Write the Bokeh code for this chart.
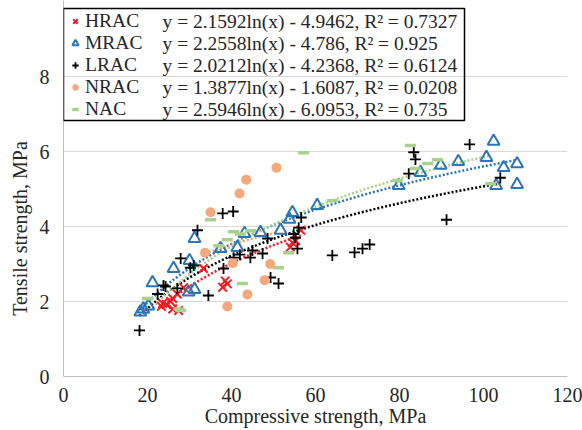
import numpy as np
from bokeh.plotting import figure
from bokeh.models import (Range1d, FixedTicker, Legend, LegendItem, Label,
                          BoxAnnotation)
from bokeh.embed import file_html
from bokeh.resources import INLINE

# ---------------- data ----------------
series_names = ["HRAC", "MRAC", "LRAC", "NRAC", "NAC"]

hrac_x = [23.3, 23.6, 24.5, 25.5, 26.0, 26.0, 27.1, 27.4, 28.6, 33.3, 37.9, 39.0, 38.5,
          54.0, 54.5, 55.3, 56.5]
hrac_y = [1.87, 1.95, 1.92, 2.00, 2.08, 1.80, 2.20, 1.76, 2.37, 2.88, 2.38, 2.47, 2.55,
          3.45, 3.57, 3.62, 3.90]

mrac_x = [18.3, 19.0, 20.2, 21.2, 26.2, 29.8, 31.2, 30.0, 31.2, 37.4, 41.4, 43.1, 46.9,
          51.7, 53.8, 54.5, 60.4, 79.8, 85.0, 89.8, 94.0, 100.7, 102.4, 104.8, 108.0, 103.0, 108.0]
mrac_y = [1.72, 1.80, 1.88, 2.50, 2.88, 2.25, 2.32, 3.09, 3.68, 3.41, 3.44, 3.81, 3.84,
          3.90, 4.19, 4.37, 4.56, 5.09, 5.44, 5.63, 5.73, 5.84, 6.27, 5.57, 5.67, 5.09, 5.12]

lrac_x = [18.1, 22.4, 23.8, 24.3, 27.1, 27.9, 30.2, 31.0, 31.9, 34.5, 37.9, 40.4, 38.1, 40.5,
          42.0, 44.5, 45.0, 47.4, 48.6, 49.3, 51.2, 54.8, 55.2, 55.7, 56.0, 56.6, 64.0, 69.3,
          71.2, 72.9, 82.2, 83.4, 83.8, 91.2, 96.7, 104.0]
lrac_y = [1.23, 2.20, 2.43, 2.40, 2.35, 3.15, 2.90, 2.96, 3.90, 2.16, 4.35, 4.40, 2.88, 3.17,
          3.25, 3.17, 3.36, 3.28, 3.68, 2.64, 2.48, 3.80, 3.70, 3.41, 3.97, 4.24, 3.23, 3.31,
          3.41, 3.52, 5.41, 5.98, 5.79, 4.18, 6.19, 5.30]

nrac_x = [33.7, 35.0, 39.0, 40.3, 41.9, 43.5, 43.8, 47.9, 49.2, 50.7]
nrac_y = [3.30, 4.38, 1.87, 3.02, 4.88, 5.25, 2.19, 2.57, 3.00, 5.57]

nac_x = [20.0, 27.4, 27.9, 35.0, 37.0, 39.0, 40.5, 42.1, 44.5, 42.6, 51.2, 53.6, 57.2, 64.0,
         79.5, 82.6, 83.8, 86.7, 89.0, 101.7]
nac_y = [2.08, 1.80, 1.76, 4.18, 3.49, 3.65, 3.86, 3.80, 3.89, 2.48, 2.90, 3.30, 5.97, 4.69,
         5.23, 6.16, 5.55, 5.68, 5.78, 5.14]

# trendline coefficients (y = a ln(x) + b) and R^2 as printed on the chart
slopes = [2.1592, 2.2558, 2.0212, 1.3877, 2.5946]
intercepts = [-4.9462, -4.786, -4.2368, -1.6087, -6.0953]
r2_text = ["0.7327", "0.925", "0.6124", "0.0208", "0.735"]

x_ticks = [0, 20, 40, 60, 80, 100, 120]
y_ticks = [0, 2, 4, 6, 8]

# ---------------- style ----------------
FONT = "Liberation Serif"
TXT = "#262626"
colors = ["#EE1C25", "#2E75B6", "#000000", "#F4A87C", "#A9D18E"]

W, H = 582, 430
FRAME_LEFT, FRAME_RIGHT = 63, 567
FRAME_BOTTOM = 376          # pixel row of y = 0
PX_PER_UNIT_Y = 37.5        # 8 units over 300 px
PX_PER_UNIT_X = (FRAME_RIGHT - FRAME_LEFT) / 120.0
y_top = FRAME_BOTTOM / PX_PER_UNIT_Y   # room above 8 for the legend box

p = figure(width=W, height=H, x_range=Range1d(0, 120), y_range=Range1d(0, y_top),
           output_backend="svg", toolbar_location=None,
           min_border_left=FRAME_LEFT, min_border_right=W - FRAME_RIGHT, min_border_top=0,
           min_border_bottom=H - FRAME_BOTTOM)
p.outline_line_color = None
p.background_fill_color = "white"

p.xaxis.ticker = FixedTicker(ticks=x_ticks)
p.yaxis.ticker = FixedTicker(ticks=y_ticks)
for ax in (p.xaxis, p.yaxis):
    ax.major_tick_out = 0
    ax.major_tick_in = 0
    ax.minor_tick_out = 0
    ax.minor_tick_in = 0
    ax.axis_line_color = "#BFBFBF"
    ax.axis_line_width = 1
    ax.major_label_text_font = FONT
    ax.major_label_text_font_size = "20px"
    ax.major_label_text_color = TXT
    ax.axis_label_text_font = FONT
    ax.axis_label_text_font_size = "20px"
    ax.axis_label_text_font_style = "normal"
    ax.axis_label_text_color = TXT
p.xaxis.axis_label = "Compressive strength, MPa"
# trailing no-break spaces shift the visible title down to the centre of the 0-8 span
p.yaxis.axis_label = "Tensile strength, MPa" + "\u00a0" * 16
p.xaxis.major_label_standoff = 11
p.xaxis.axis_label_standoff = 0
p.yaxis.major_label_standoff = 14
p.yaxis.axis_label_standoff = 6

p.xgrid.visible = False
p.ygrid.grid_line_color = "#D9D9D9"
p.ygrid.grid_line_width = 1

# ---------------- trendlines ----------------
all_x = [hrac_x, mrac_x, lrac_x, nrac_x, nac_x]
for xs, a, b, c in zip(all_x, slopes, intercepts, colors):
    tx = np.linspace(min(xs), max(xs), 120)
    ty = a * np.log(tx) + b
    p.line(tx, ty, line_color=c, line_width=2.5, line_dash="2 2")

# ---------------- scatter series ----------------
r_h = p.scatter(hrac_x, hrac_y, marker="x", size=12, line_color=colors[0], line_width=2)
r_m = p.scatter(mrac_x, mrac_y, marker="triangle", size=12, fill_color=None,
                line_color=colors[1], line_width=2)
r_l = p.scatter(lrac_x, lrac_y, marker="cross", size=11, line_color=colors[2], line_width=1.8)
r_n = p.scatter(nrac_x, nrac_y, marker="circle", size=10, fill_color=colors[3], line_color=None)
r_g = p.scatter(nac_x, nac_y, marker="dash", size=11, line_color=colors[4], line_width=3.5)
renderers = [r_h, r_m, r_l, r_n, r_g]

# ---------------- legend (box, markers+names, equations) ----------------
# legend box spans pixels x 63..464, y 8..120 (converted to axis units)
box = BoxAnnotation(left=0, right=(464 - FRAME_LEFT) / PX_PER_UNIT_X,
                    bottom=(FRAME_BOTTOM - 120) / PX_PER_UNIT_Y,
                    top=(FRAME_BOTTOM - 8) / PX_PER_UNIT_Y,
                    fill_alpha=0, line_color="black", line_alpha=1.0, line_width=1.5)
p.add_layout(box)

legend = Legend(items=[LegendItem(label=n, renderers=[r]) for n, r in zip(series_names, renderers)],
                location=(0, 252), padding=4, spacing=0, margin=0,
                label_height=22, glyph_height=22, glyph_width=16, label_standoff=2,
                border_line_alpha=0, background_fill_alpha=0,
                label_text_font=FONT, label_text_font_size="19.5px", label_text_color=TXT)
p.add_layout(legend)

row_y = [355, 333, 311, 289, 267]
for a, b, r2, yy in zip(slopes, intercepts, r2_text, row_y):
    eq = f"y = {a}ln(x) - {abs(b)}, R\u00b2 = {r2}"
    p.add_layout(Label(x=99, y=yy, x_units="screen", y_units="screen", text=eq,
                       text_font=FONT, text_font_size="19.5px", text_color=TXT,
                       text_baseline="middle", text_align="left"))

open("out.html", "w").write(file_html(p, INLINE))
